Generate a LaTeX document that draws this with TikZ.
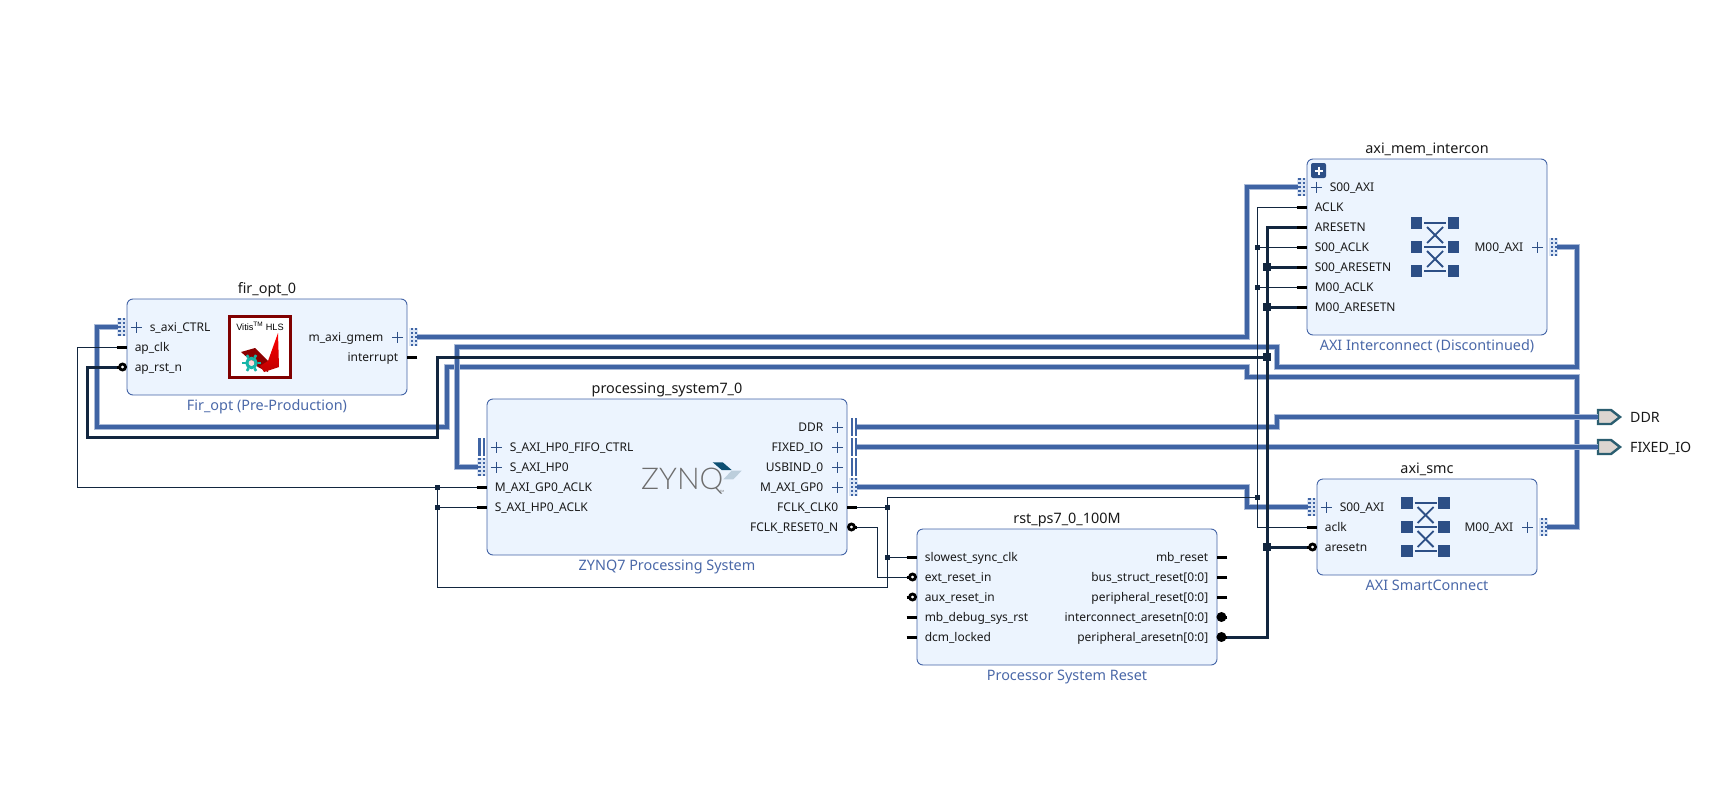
\documentclass[tikz,border=0pt]{standalone}
\usepackage{fontspec}
\setmainfont{Noto Sans}
\newfontfamily\logofont{Liberation Sans}
\newfontfamily\zynqfont{Lato Light}
\usetikzlibrary{positioning}
\definecolor{blockfill}{HTML}{ECF4FE}
\definecolor{blockline}{HTML}{4263A6}
\definecolor{subtext}{HTML}{4A68A8}
\definecolor{busblue}{HTML}{3F64A4}
\definecolor{bushalo}{HTML}{A9BAD8}
\definecolor{netdark}{HTML}{12263F}
\definecolor{iconblue}{HTML}{2D4F86}
\definecolor{dothalo}{HTML}{DDE7F5}
\definecolor{extfill}{HTML}{DCD5D0}
\definecolor{extline}{HTML}{2B5E70}
\definecolor{logodark}{HTML}{0D4F72}
\definecolor{logolight}{HTML}{BCCEDC}
\definecolor{logogray}{HTML}{6D6D6D}
\definecolor{geargreen}{HTML}{17B5A8}
\tikzset{
  block/.style={draw=blockline,fill=blockfill,rounded corners=6pt,line width=0.9pt,inner sep=0pt},
  blocktitle/.style={font=\fontsize{14.4}{16}\selectfont,text=black!90,inner sep=0pt,text depth=0pt},
  blocksub/.style={font=\fontsize{14.4}{16}\selectfont,text=subtext,inner sep=0pt,text height=11pt,text depth=0pt},
  pinlabel/.style={font=\fontsize{12}{14}\selectfont,text=black!90,inner sep=0pt,text height=11pt,text depth=2pt},
  extlabel/.style={font=\fontsize{14.2}{16}\selectfont,text=black!90,inner sep=0pt,text height=12pt,text depth=2pt},
  stub/.style={line width=3pt,black},
  bus/.style={draw=busblue,line width=3.6pt,preaction={draw=bushalo,line width=5.4pt}},
  clknet/.style={draw=netdark,line width=1pt},
  rstnet/.style={draw=netdark,line width=3pt},
  tee/.style={fill=netdark,inner sep=0pt,minimum size=#1},
  tee/.default=5pt,
  extpin/.style={draw=extline,fill=extfill,line width=2.4pt},
}
% port glyphs, centred on the given point
\newcommand{\dotport}[1]{\begin{scope}[shift={(#1)}]
  \fill[dothalo] (-4.5,-9) rectangle (4.5,9);
  \foreach \xx in {-2.1,2.1}
    \draw[busblue,line width=2.1pt,dash pattern=on 2.4pt off 1.6pt] (\xx,-9)--(\xx,9);
  \end{scope}}
\newcommand{\barport}[1]{\begin{scope}[shift={(#1)}]
  \foreach \xx in {-2.2,2.2}
    \draw[busblue,line width=2.3pt] (\xx,-9)--(\xx,9);
  \end{scope}}
\newcommand{\xbaricon}[2]{\begin{scope}[shift={(#1,#2)}]
  \foreach \xx in {-18.5,18.5}\foreach \yy in {-24,0,24}
    \fill[iconblue] (\xx-5.6,\yy-5.6) rectangle (\xx+5.6,\yy+5.6);
  \foreach \yy in {-24,0,24}
    \draw[iconblue,line width=1.6pt] (-11,\yy)--(11,\yy);
  \foreach \yy in {-12,12}{
    \draw[iconblue,line width=1.8pt] (-8,\yy-8)--(8,\yy+8);
    \draw[iconblue,line width=1.8pt] (-8,\yy+8)--(8,\yy-8);}
  \end{scope}}
% plain side pins: name, block, y, text
\newcommand{\lpin}[4]{
  \coordinate (#1) at ([xshift=-10pt]#2.west |- 0,#3);
  \draw[stub] (#1)--++(10,0);
  \node[pinlabel,anchor=west] (#1_txt) at ([xshift=8pt]#2.west |- 0,#3) {#4};}
\newcommand{\rpin}[4]{
  \coordinate (#1) at ([xshift=10pt]#2.east |- 0,#3);
  \draw[stub] (#1)--++(-10,0);
  \node[pinlabel,anchor=east] (#1_txt) at ([xshift=-9pt]#2.east |- 0,#3) {#4};}
\newcommand{\lbub}[4]{
  \coordinate (#1) at ([xshift=-10pt]#2.west |- 0,#3);
  \draw[stub] (#1)--++(4,0);
  \draw[black,fill=white,line width=2.8pt] ([xshift=-4pt]#2.west |- 0,#3) circle (3);
  \node[pinlabel,anchor=west] (#1_txt) at ([xshift=8pt]#2.west |- 0,#3) {#4};}
\newcommand{\rbub}[4]{
  \coordinate (#1) at ([xshift=10pt]#2.east |- 0,#3);
  \draw[stub] (#1)--++(-4,0);
  \draw[black,fill=white,line width=2.8pt] ([xshift=4pt]#2.east |- 0,#3) circle (3);
  \node[pinlabel,anchor=east] (#1_txt) at ([xshift=-9pt]#2.east |- 0,#3) {#4};}
\newcommand{\rdot}[4]{
  \coordinate (#1) at ([xshift=10pt]#2.east |- 0,#3);
  \draw[stub] (#1)--++(-4,0);
  \fill[black] ([xshift=4pt]#2.east |- 0,#3) circle (5);
  \node[pinlabel,anchor=east] (#1_txt) at ([xshift=-9pt]#2.east |- 0,#3) {#4};}
% bus pins: name, block, y, text, glyph
\newcommand{\lbus}[5]{
  \coordinate (#1) at ([xshift=-9pt]#2.west |- 0,#3);
  #5{[xshift=-5pt]#2.west |- 0,#3}
  \draw[iconblue,line width=0.8pt] ([xshift=4pt]#2.west |- 0,#3)--++(11.4,0) ([xshift=9.7pt]#2.west |- 0,#3)++(0,-5.5)--++(0,11);
  \node[pinlabel,anchor=west] (#1_txt) at ([xshift=23pt]#2.west |- 0,#3) {#4};}
\newcommand{\rbus}[5]{
  \coordinate (#1) at ([xshift=10pt]#2.east |- 0,#3);
  #5{[xshift=6.5pt]#2.east |- 0,#3}
  \draw[iconblue,line width=0.8pt] ([xshift=-4.3pt]#2.east |- 0,#3)--++(-11.4,0) ([xshift=-10pt]#2.east |- 0,#3)++(0,-5.5)--++(0,11);
  \node[pinlabel,anchor=east] (#1_txt) at ([xshift=-24pt]#2.east |- 0,#3) {#4};}
\begin{document}
\begin{tikzpicture}[x=1pt,y=-1pt]
\useasboundingbox (0,0) rectangle (1720,789);
% blocks
\node[block,minimum width=280pt,minimum height=96pt] (fir) at (267,347) {};
\node[blocktitle,above=5pt of fir] (fir_title) {fir\_opt\_0};
\node[blocksub,below=4pt of fir] (fir_sub) {Fir\_opt (Pre-Production)};
\node[block,minimum width=360pt,minimum height=156pt] (ps) at (667,477) {};
\node[blocktitle,above=5pt of ps] (ps_title) {processing\_system7\_0};
\node[blocksub,below=4pt of ps] (ps_sub) {ZYNQ7 Processing System};
\node[block,minimum width=240pt,minimum height=176pt] (mem) at (1427,247) {};
\node[blocktitle,above=5pt of mem] (mem_title) {axi\_mem\_intercon};
\node[blocksub,below=4pt of mem] (mem_sub) {AXI Interconnect (Discontinued)};
\node[block,minimum width=220pt,minimum height=96pt] (smc) at (1427,527) {};
\node[blocktitle,above=5pt of smc] (smc_title) {axi\_smc};
\node[blocksub,below=4pt of smc] (smc_sub) {AXI SmartConnect};
\node[block,minimum width=300pt,minimum height=136pt] (rst) at (1067,597) {};
\node[blocktitle,above=5pt of rst] (rst_title) {rst\_ps7\_0\_100M};
\node[blocksub,below=4pt of rst] (rst_sub) {Processor System Reset};
% fir pins
\lbus{fir_ctrl}{fir}{327}{s\_axi\_CTRL}{\dotport}
\lpin{fir_clk}{fir}{347}{ap\_clk}
\lbub{fir_rst}{fir}{367}{ap\_rst\_n}
\rbus{fir_gmem}{fir}{337}{m\_axi\_gmem}{\dotport}
\rpin{fir_irq}{fir}{357}{interrupt}
% ps pins
\lbus{ps_fifo}{ps}{447}{S\_AXI\_HP0\_FIFO\_CTRL}{\barport}
\lbus{ps_hp}{ps}{467}{S\_AXI\_HP0}{\dotport}
\lpin{ps_gpclk}{ps}{487}{M\_AXI\_GP0\_ACLK}
\lpin{ps_hpclk}{ps}{507}{S\_AXI\_HP0\_ACLK}
\rbus{ps_ddr}{ps}{427}{DDR}{\barport}
\rbus{ps_fixed}{ps}{447}{FIXED\_IO}{\barport}
\rbus{ps_usb}{ps}{467}{USBIND\_0}{\barport}
\rbus{ps_gp}{ps}{487}{M\_AXI\_GP0}{\dotport}
\rpin{ps_fclk}{ps}{507}{FCLK\_CLK0}
\rbub{ps_frst}{ps}{527}{FCLK\_RESET0\_N}
% interconnect pins
\lbus{mem_s}{mem}{187}{S00\_AXI}{\dotport}
\lpin{mem_aclk}{mem}{207}{ACLK}
\lpin{mem_arst}{mem}{227}{ARESETN}
\lpin{mem_sclk}{mem}{247}{S00\_ACLK}
\lpin{mem_srst}{mem}{267}{S00\_ARESETN}
\lpin{mem_mclk}{mem}{287}{M00\_ACLK}
\lpin{mem_mrst}{mem}{307}{M00\_ARESETN}
\rbus{mem_m}{mem}{247}{M00\_AXI}{\dotport}
% smartconnect pins
\lbus{smc_s}{smc}{507}{S00\_AXI}{\dotport}
\lpin{smc_clk}{smc}{527}{aclk}
\lbub{smc_rst}{smc}{547}{aresetn}
\rbus{smc_m}{smc}{527}{M00\_AXI}{\dotport}
% reset pins
\lpin{rst_clk}{rst}{557}{slowest\_sync\_clk}
\lbub{rst_ext}{rst}{577}{ext\_reset\_in}
\lbub{rst_aux}{rst}{597}{aux\_reset\_in}
\lpin{rst_dbg}{rst}{617}{mb\_debug\_sys\_rst}
\lpin{rst_dcm}{rst}{637}{dcm\_locked}
\rpin{rst_mb}{rst}{557}{mb\_reset}
\rpin{rst_bus}{rst}{577}{bus\_struct\_reset[0:0]}
\rpin{rst_per}{rst}{597}{peripheral\_reset[0:0]}
\rdot{rst_ic}{rst}{617}{interconnect\_aresetn[0:0]}
\rdot{rst_pa}{rst}{637}{peripheral\_aresetn[0:0]}
% icons
\xbaricon{1435}{247}
\xbaricon{1425.5}{527}
\fill[iconblue,rounded corners=2pt] (1311,163) rectangle (1326,178);
\draw[white,line width=2pt] (1314.5,170.5)--(1322.5,170.5) (1318.5,166.5)--(1318.5,174.5);
% vitis logo
\draw[draw=black!50!red,fill=white,line width=3pt] (229.5,316.5) rectangle (290.5,377);
\node[font=\logofont\fontsize{9.2}{10}\selectfont,inner sep=0pt] (vitis) at (260,326) {Vitis\textsuperscript{TM} HLS};
\fill[black!45!red] (241,352)--(255,348)--(268,361)--(268,372)--(258,367);
\path[top color=red,bottom color=black!25!red] (268,361)--(278,333)--(279,367)--(264,372)--(260,366)--cycle;
\draw[geargreen,line width=3.2pt] (251.5,363) circle (4.6);
\foreach \ang in {0,60,...,300}
  \draw[geargreen,line width=2.6pt] (251.5,363)++(\ang:6)--++(\ang:3.2);
\fill[red!15] (251.5,363) circle (2.8);
% zynq logo
\node[font=\zynqfont\fontsize{30}{32}\selectfont,text=logogray,inner sep=0pt,anchor=west] (zynq) at (641,481) {ZYNQ};
\node[font=\logofont\fontsize{3}{3}\selectfont,text=logogray,inner sep=0pt] (zynq_tm) at (722,491) {TM};
\fill[logodark] (712.7,462.3)--(722.7,462.3)--(731.7,470)--(721.7,470)--cycle;
\fill[logolight] (723.3,479.3)--(733.3,479.3)--(741.7,470.7)--(731.7,470.7)--cycle;
% external ports
\coordinate (ddr_pin) at (1598,417);
\coordinate (fixed_pin) at (1598,447);
\draw[extpin] (ddr_pin)++(0,-7)--++(13,0)--++(9,7)--++(-9,7)--++(-13,0)--cycle;
\draw[extpin] (fixed_pin)++(0,-7)--++(13,0)--++(9,7)--++(-9,7)--++(-13,0)--cycle;
\node[extlabel,anchor=west] (ddr_txt) at (1630,417) {DDR};
\node[extlabel,anchor=west] (fixed_txt) at (1630,447) {FIXED\_IO};
% interface nets
\draw[bus] (fir_ctrl) -| (97,427) -| (447,367) -| (1247,377) -| (1577,527) -- (smc_m);
\draw[bus] (ps_hp) -| (457,347) -| (1277,367) -| (1577,247) -- (mem_m);
\draw[bus] (fir_gmem) -| (1247,187) -- (mem_s);
\draw[bus] (ps_ddr) -| (1277,417) -- (ddr_pin);
\draw[bus] (ps_fixed) -- (fixed_pin);
\draw[bus] (ps_gp) -| (1247,507) -- (smc_s);
% clock net
\draw[clknet] (fir_clk) -| (77,487) -- (ps_gpclk);
\draw[clknet] (ps_hpclk) -- (437,507);
\draw[clknet] (437,487) |- (887,587) |- (1257,497);
\draw[clknet] (ps_fclk) -- (887,507);
\draw[clknet] (887,557) -- (rst_clk);
\draw[clknet] (mem_aclk) -| (1257,527) -- (smc_clk);
\draw[clknet] (1257,247) -- (mem_sclk);
\draw[clknet] (1257,287) -- (mem_mclk);
\draw[clknet] (ps_frst) -| (877,577) -- (rst_ext);
% reset net
\draw[rstnet] (mem_arst) -| (1267,637) -- (rst_pa);
\draw[rstnet] (fir_rst) -| (87,437) -| (437,357) -- (1267,357);
\draw[rstnet] (1267,267) -- (mem_srst);
\draw[rstnet] (1267,307) -- (mem_mrst);
\draw[rstnet] (1267,547) -- (smc_rst);
% junctions
\foreach \px/\py in {437/487,437/507,887/507,887/557,1257/497,1257/247,1257/287}
  \node[tee] at (\px,\py) {};
\foreach \px/\py in {1267/267,1267/307,1267/357,1267/547}
  \node[tee=7.5pt] at (\px,\py) {};
\end{tikzpicture}
\end{document}
